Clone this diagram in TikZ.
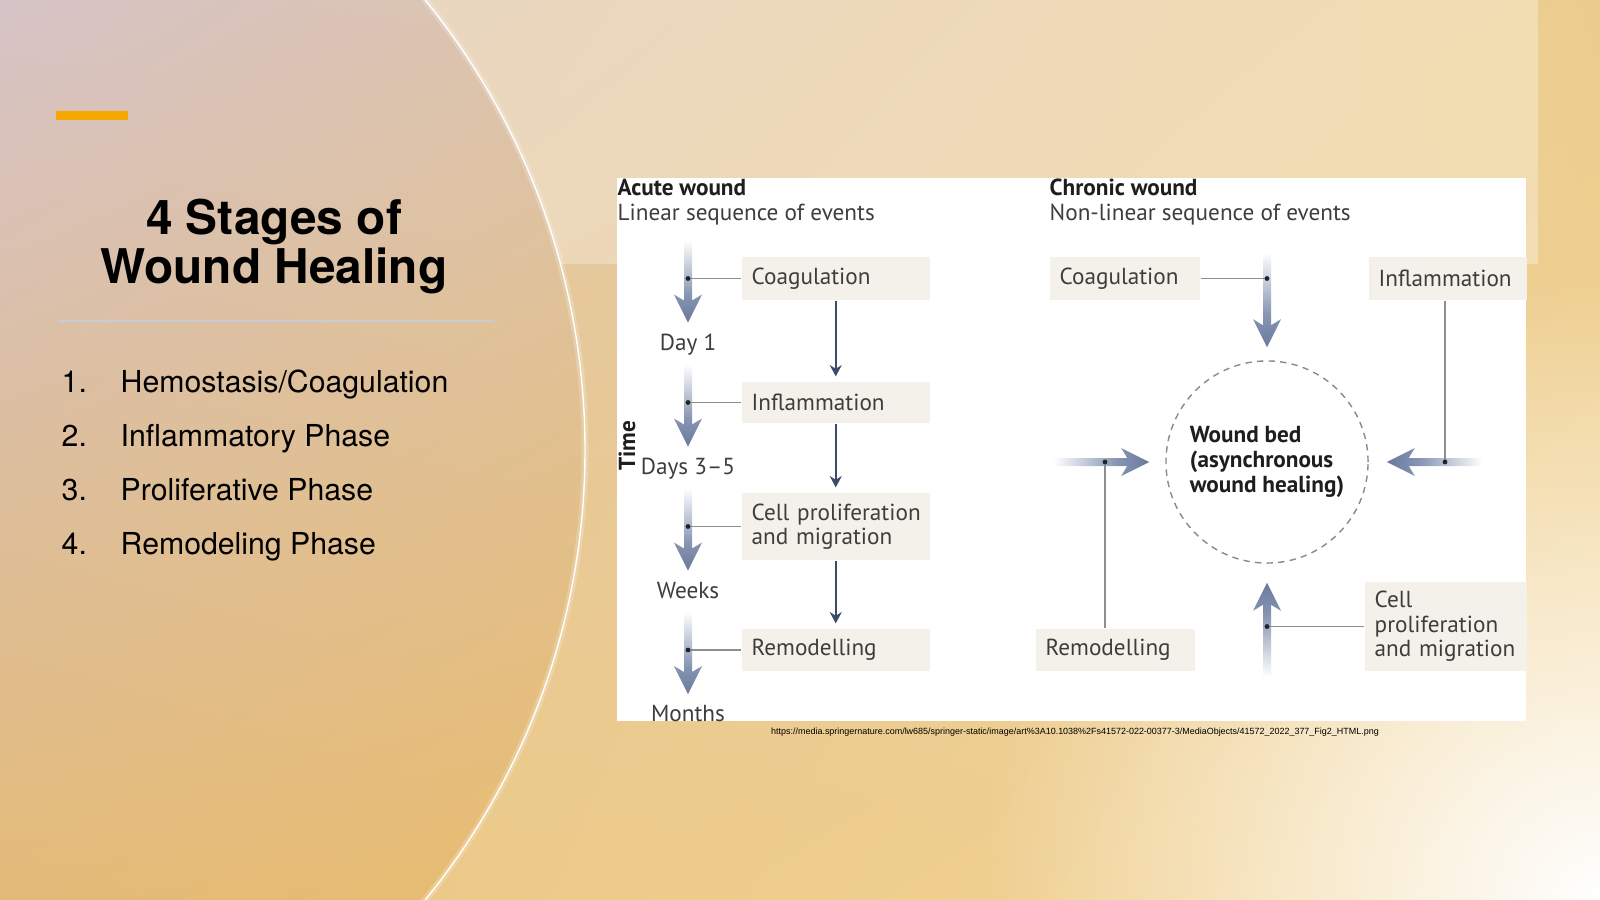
\documentclass[tikz,border=0pt]{standalone}
\usepackage{fontspec}
\setmainfont{TeX Gyre Heros}
\newfontfamily\figfont{PT Sans}
\newfontfamily\urlfont{Liberation Sans}
\usetikzlibrary{arrows.meta,fadings,shadings}
\definecolor{bgUL}{HTML}{DCC4AE}
\definecolor{bgUR}{HTML}{EDCD8F}
\definecolor{bgLL}{HTML}{E9C585}
\definecolor{bgLR}{HTML}{F3D595}
\definecolor{arcUL}{HTML}{D6C3C6}
\definecolor{arcUR}{HTML}{DCC4AC}
\definecolor{arcLL}{HTML}{E3BA78}
\definecolor{arcLR}{HTML}{E8BC70}
\definecolor{barorange}{HTML}{F4A800}
\definecolor{rulegray}{HTML}{C9CDD2}
\definecolor{boxfill}{HTML}{F4F1EA}
\definecolor{figtext}{HTML}{3D3D3D}
\definecolor{headtext}{HTML}{1E1E1E}
\definecolor{linkgray}{HTML}{8E8E8E}
\definecolor{dotblack}{HTML}{222222}
\definecolor{flowblue}{HTML}{3C4B6C}
\definecolor{fadeblue}{HTML}{8795B3}
\definecolor{fadetip}{HTML}{6A7A9C}
\definecolor{bedgray}{HTML}{8A8A8A}
\pgfdeclarehorizontalshading{whfade}{100bp}{color(0bp)=(white); color(25bp)=(white); color(58bp)=(fadeblue); color(75bp)=(fadetip); color(100bp)=(fadetip)}
\tikzfading[name=whglow, inner color=transparent!0, outer color=transparent!100]
\newcommand{\figsize}{\fontsize{6.6}{7}\selectfont}
\newcommand{\fadev}[4]{% tip, sign (1 = down), length, shading angle
  \shade[shading=whfade, shading angle=#4, shift={(#1)}]
    (-4,{#2*(0-#3)}) -- (4,{#2*(0-#3)}) -- (4,{#2*(-22)}) -- (14,{#2*(-28)})
    -- (0,0) -- (-14,{#2*(-28)}) -- (-4,{#2*(-22)}) -- cycle;}
\newcommand{\fadeh}[4]{% tip, sign (1 = right), length, shading angle
  \shade[shading=whfade, shading angle=#4, shift={(#1)}]
    ({#2*(0-#3)},-4) -- ({#2*(0-#3)},4) -- ({#2*(-22)},4) -- ({#2*(-28)},14)
    -- (0,0) -- ({#2*(-28)},-14) -- ({#2*(-22)},-4) -- cycle;}
\tikzset{
  slide title/.style={anchor=base,inner sep=0pt,text=black,font=\bfseries\fontsize{13.6}{14}\selectfont},
  slide item/.style={anchor=base west,inner sep=0pt,text=black,font=\fontsize{8.6}{10}\selectfont},
  wh head/.style={anchor=base west,inner sep=0pt,text=headtext,font=\figfont\bfseries\figsize},
  wh sub/.style={anchor=base west,inner sep=0pt,text=figtext,font=\figfont\figsize},
  wh box/.style={fill=boxfill,text=figtext,anchor=west,align=left,inner xsep=0.1cm,inner ysep=0pt,font=\figfont\figsize},
  wh time/.style={anchor=base,inner sep=0pt,text=figtext,font=\figfont\figsize},
  wh bed/.style={circle,draw=bedgray,line width=0.4pt,dash pattern=on 1.8pt off 1.5pt,minimum size=2.02cm,inner sep=0pt,align=left,text=headtext,font=\figfont\bfseries\figsize},
  wh link/.style={draw=linkgray,line width=0.35pt},
  wh flow/.style={draw=flowblue,line width=0.65pt,-{Stealth[length=3.2pt,width=3.4pt]},shorten >=1.4pt},
  wh dot/.style={fill=dotblack}
}
\begin{document}
\begin{tikzpicture}[x=0.01cm,y=-0.01cm]
  \useasboundingbox (0,0) rectangle (1600,900);
  \clip (0,0) rectangle (1600,900);
  % slide background
  \shade[upper left=bgUL,upper right=bgUR,lower left=bgLL,lower right=bgLR] (0,0) rectangle (1600,900);
  \fill[white,path fading=whglow] (1600,900) circle (620);
  \fill[white,opacity=0.3] (0,0) rectangle (1538,264);
  \begin{scope}
    \clip (-128,450) circle (713);
    \shade[upper left=arcUL,upper right=arcUR,lower left=arcLL,lower right=arcLR] (0,0) rectangle (600,900);
  \end{scope}
  \draw[white,opacity=0.2,line width=2pt] (-128,450) circle (713);
  \draw[white,line width=0.4pt] (-128,450) circle (713);

  % left column
  \fill[barorange] (56,111) rectangle (128,120);
  \node[slide title] (title1) at (274,234) {4 Stages of};
  \node[slide title] (title2) at (274,283) {Wound Healing};
  \draw[rulegray,line width=0.55pt] (58,321) -- (494,321);
  \foreach \txt [count=\i] in {{Hemostasis/Coagulation},{Inflammatory Phase},{Proliferative Phase},{Remodeling Phase}}{
    \node[slide item] (num\i) at (61,{338+54*\i}) {\i.};
    \node[slide item] (item\i) at (120,{338+54*\i}) {\txt};
  }

  % figure
  \fill[white] (617,178) rectangle (1526,721);
  \node[wh head] (ahead) at (617,195) {Acute wound};
  \node[wh sub] (asub) at (617,220) {Linear sequence of events};
  \node[wh head] (chead) at (1049,195) {Chronic wound};
  \node[wh sub] (csub) at (1049,220) {Non-linear sequence of events};

  \node[wh box,text width=1.68cm,minimum height=0.43cm] (acoag) at (741,278.5) {Coagulation};
  \node[wh box,text width=1.68cm,minimum height=0.41cm] (ainfl) at (741,402.5) {Inflammation};
  \node[wh box,text width=1.68cm,minimum height=0.67cm] (acell) at (741,526.5) {\mbox{Cell proliferation}\\and migration};
  \node[wh box,text width=1.68cm,minimum height=0.42cm] (aremod) at (741,650) {Remodelling};
  \draw[wh flow] (acoag) -- (ainfl);
  \draw[wh flow] (ainfl) -- (acell);
  \draw[wh flow] (acell) -- (aremod);

  \coordinate (taxis) at (688,0);
  \foreach \bx/\lab [count=\i] in {acoag/Day 1,ainfl/Days 3–5,acell/Weeks,aremod/Months}{
    \coordinate (tdot\i) at (\bx.west -| taxis);
    \coordinate (ttip\i) at ([yshift=-0.44cm]tdot\i);
    \fadev{ttip\i}{1}{82}{-90}
    \draw[wh link] (tdot\i) -- (\bx.west);
    \fill[wh dot] (tdot\i) circle (2.4);
    \node[wh time] (tlab\i) at ([yshift=-0.275cm]ttip\i) {\lab};
  }
  \node[wh head,rotate=90,anchor=center] (timelab) at (627,446) {Time};

  \node[wh box,text width=1.30cm,minimum height=0.43cm] (ccoag) at (1049,278.5) {Coagulation};
  \node[wh box,text width=1.38cm,minimum height=0.43cm] (cinfl) at (1368,278.5) {Inflammation};
  \node[wh box,text width=1.39cm,minimum height=0.42cm] (cremod) at (1035,650) {Remodelling};
  \node[wh box,text width=1.42cm,minimum height=0.89cm] (ccell) at (1364,626.5) {Cell\\proliferation\\\mbox{and migration}};
  \node[wh bed] (wbed) at (1267,462) {Wound bed\\(asynchronous\\wound healing)};

  \coordinate (ctoptip) at ([yshift=0.13cm]wbed.north);
  \coordinate (cbottip) at ([yshift=-0.19cm]wbed.south);
  \coordinate (clefttip) at ([xshift=-0.16cm]wbed.west);
  \coordinate (crighttip) at ([xshift=0.18cm]wbed.east);
  \fadev{ctoptip}{1}{95}{-90}
  \fadev{cbottip}{-1}{94}{90}
  \fadeh{clefttip}{1}{96}{0}
  \fadeh{crighttip}{-1}{96}{180}

  \coordinate (ctop) at (ccoag.east -| wbed);
  \coordinate (cbot) at (ccell.west -| wbed);
  \coordinate (cleft) at (1105,462);
  \coordinate (cright) at (1445,462);
  \draw[wh link] (ccoag.east) -- (ctop);
  \draw[wh link] (ccell.west) -- (cbot);
  \draw[wh link] (cremod.north -| cleft) -- (cleft);
  \draw[wh link] (cinfl.south -| cright) -- (cright);
  \foreach \d in {ctop,cbot,cleft,cright}{\fill[wh dot] (\d) circle (2.4);}

  \node[inner sep=0pt,text=black,font=\urlfont\fontsize{2.55}{3}\selectfont] (srcurl) at (1075,732)
    {https://media.springernature.com/lw685/springer-static/image/art\%3A10.1038\%2Fs41572-022-00377-3/MediaObjects/41572\_2022\_377\_Fig2\_HTML.png};
\end{tikzpicture}
\end{document}
